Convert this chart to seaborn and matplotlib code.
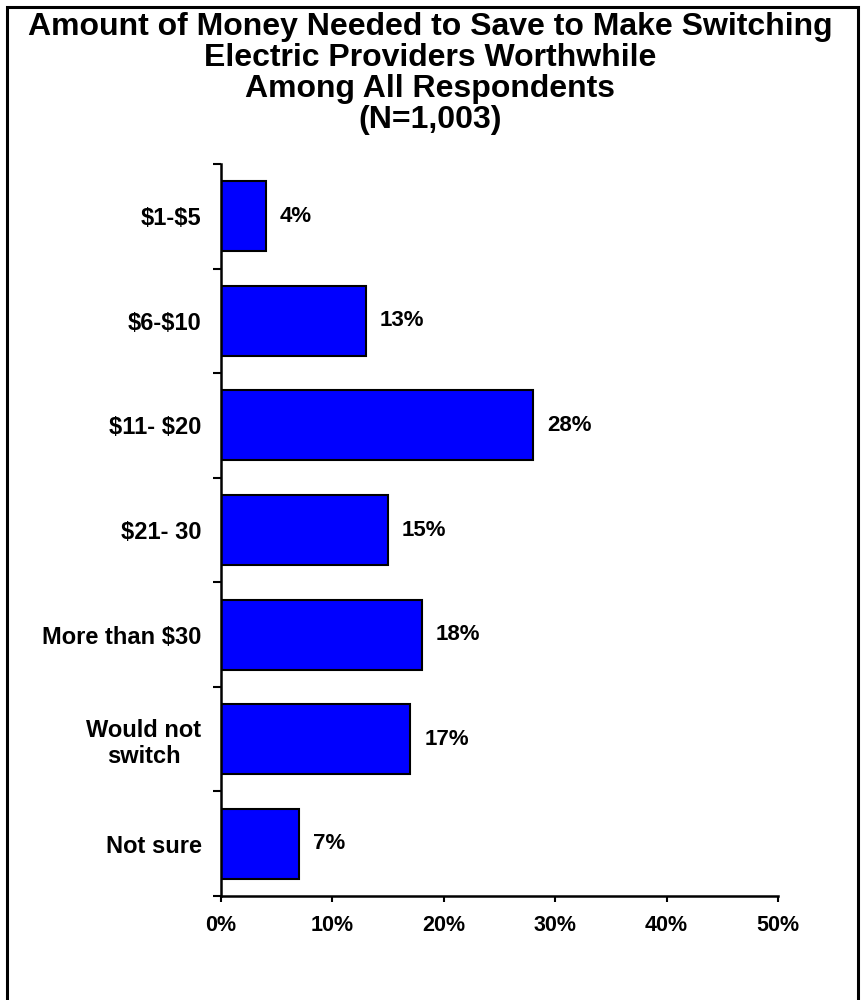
import matplotlib
matplotlib.use("Agg")
import matplotlib.pyplot as plt
import seaborn as sns
import pandas as pd
from matplotlib.patches import Rectangle
from matplotlib.ticker import FixedLocator

# dados
categorias = ["$1-$5", "$6-$10", "$11- $20", "$21- 30", "More than $30",
              "Would not\nswitch", "Not sure"]
valores = [4, 13, 28, 15, 18, 17, 7]
xticks = [0, 10, 20, 30, 40, 50]
titulo = ("Amount of Money Needed to Save to Make Switching\n"
          "Electric Providers Worthwhile\n"
          "Among All Respondents\n"
          "(N=1,003)")

df = pd.DataFrame({"categoria": categorias, "valor": valores})

sns.set_style("ticks")
plt.rcParams["font.family"] = ["Liberation Sans", "DejaVu Sans"]
plt.rcParams["font.weight"] = "bold"
plt.rcParams["text.parse_math"] = False  # "$" literal, sem mathtext
plt.rcParams["text.color"] = "black"
plt.rcParams["xtick.color"] = "black"
plt.rcParams["ytick.color"] = "black"

fig = plt.figure(figsize=(8.61, 10), dpi=100)
ax = fig.add_axes([221 / 861, 0.104, (778 - 221) / 861, 0.836 - 0.104])

sns.barplot(data=df, x="valor", y="categoria", orient="h", color="#0000FF",
            saturation=1, edgecolor="black", linewidth=1.5, width=0.67, ax=ax)

ax.set_xlim(0, 50)
ax.set_ylim(len(categorias) - 0.5, -0.5)
ax.set_xlabel("")
ax.set_ylabel("")

# rotulos de valor
for i, v in enumerate(valores):
    ax.annotate(f"{v}%", (v, i), xytext=(10, 0), textcoords="offset points",
                va="center", ha="left", fontsize=16, fontweight="bold")

# eixo x
ax.set_xticks(xticks)
ax.set_xticklabels([f"{t}%" for t in xticks], fontsize=15.5, fontweight="bold")
ax.tick_params(axis="x", length=4, width=1.5, pad=10)

# eixo y: rotulos no centro, tracos entre categorias
ax.tick_params(axis="y", which="major", length=0, pad=14, labelsize=17)
for lab in ax.get_yticklabels():
    lab.set_fontweight("bold")
    lab.set_multialignment("center")
ax.yaxis.set_minor_locator(FixedLocator([i - 0.5 for i in range(len(categorias) + 1)]))
ax.tick_params(axis="y", which="minor", length=6, width=1.5)

sns.despine(ax=ax)
for s in ["left", "bottom"]:
    ax.spines[s].set_linewidth(1.8)
    ax.spines[s].set_color("black")

fig.text(0.4995, 1 - 73.5 / 1000, titulo, ha="center", va="center", fontsize=23,
         fontweight="bold", linespacing=1.03)

# moldura da figura
fig.patches.append(Rectangle((7 / 861, -0.01), (858 - 7) / 861, 1.01 - 7 / 1000,
                             transform=fig.transFigure, fill=False,
                             edgecolor="black", linewidth=2.2, zorder=10))

fig.savefig("out.png", dpi=100)
